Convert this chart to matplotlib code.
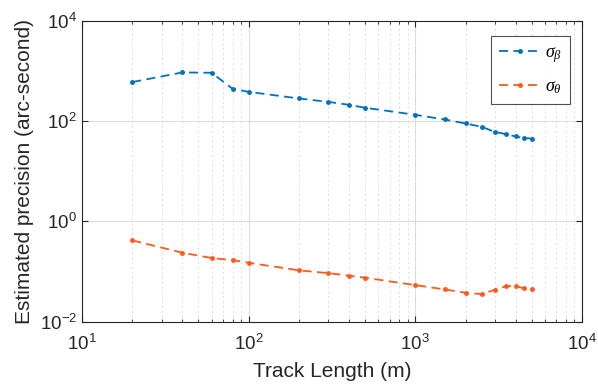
import matplotlib
matplotlib.use("Agg")
import matplotlib.pyplot as plt
from matplotlib.ticker import LogLocator, NullFormatter, FixedLocator, NullLocator

plt.rcParams['font.family'] = ['Liberation Sans', 'DejaVu Sans']
plt.rcParams['mathtext.fontset'] = 'custom'
plt.rcParams['mathtext.rm'] = 'Liberation Sans'
plt.rcParams['mathtext.it'] = 'Liberation Serif:italic'

track_length = [20, 40, 60, 80, 100, 200, 300, 400, 500, 1000, 1500, 2000,
                2500, 3000, 3500, 4000, 4500, 5000]
sigma_beta = [603, 940, 925, 443, 385, 284, 243, 212, 185, 134, 108, 90,
              77, 61, 55, 49.5, 46, 45]
sigma_theta = [0.417, 0.236, 0.185, 0.168, 0.149, 0.105, 0.0925, 0.082,
               0.0748, 0.0532, 0.0437, 0.0375, 0.0352, 0.043, 0.0508,
               0.0508, 0.0457, 0.0437]

blue = '#0072BD'
orange = '#FF5A1A'

fig = plt.figure(figsize=(5.98, 3.85), dpi=100)
ax = fig.add_axes([82/598, 1-321.5/385, (582-82)/598, (321.5-21)/385])

ax.loglog(track_length, sigma_beta, '--', color=blue, marker='.', markersize=5,
          linewidth=1.3, dashes=(5, 3), label=r'$\sigma_\beta$')
ax.loglog(track_length, sigma_theta, '--', color=orange, marker='.', markersize=5,
          linewidth=1.3, dashes=(5, 3), label=r'$\sigma_\theta$')

ax.set_xlim(10, 1e4)
ax.set_ylim(1e-2, 1e4)
ax.xaxis.set_major_locator(LogLocator(base=10, numticks=10))
ax.yaxis.set_major_locator(FixedLocator([1e-2, 1, 1e2, 1e4]))
ax.yaxis.set_minor_locator(NullLocator())
ax.xaxis.set_minor_formatter(NullFormatter())

ax.grid(True, which='major', color='#dcdcdc', linewidth=0.8, linestyle='-')
ax.grid(True, which='minor', axis='x', color='#dcdcdc', linewidth=0.7, linestyle=(0, (2, 3)))
ax.set_axisbelow(True)

ax.tick_params(which='both', direction='in', top=True, right=True, colors='#262626',
               labelsize=13.5)
ax.tick_params(which='major', length=4)
ax.tick_params(which='minor', length=2.5)
ax.tick_params(axis='x', pad=9)
for s in ax.spines.values():
    s.set_color('#262626')
    s.set_linewidth(0.8)

ax.set_xlabel('Track Length (m)', fontsize=15, color='#262626', labelpad=6)
ax.set_ylabel('Estimated precision (arc-second)', fontsize=15, color='#262626', labelpad=4)

leg = ax.legend(loc='upper right', bbox_to_anchor=((570-82)/500, (321.5-36)/300.5),
                borderaxespad=0, fontsize=13, frameon=True, fancybox=False,
                edgecolor='#262626', handlelength=2.4, borderpad=0.45,
                labelspacing=0.75, handletextpad=0.15)
leg.get_frame().set_linewidth(0.8)

fig.savefig('out.png', dpi=100)
